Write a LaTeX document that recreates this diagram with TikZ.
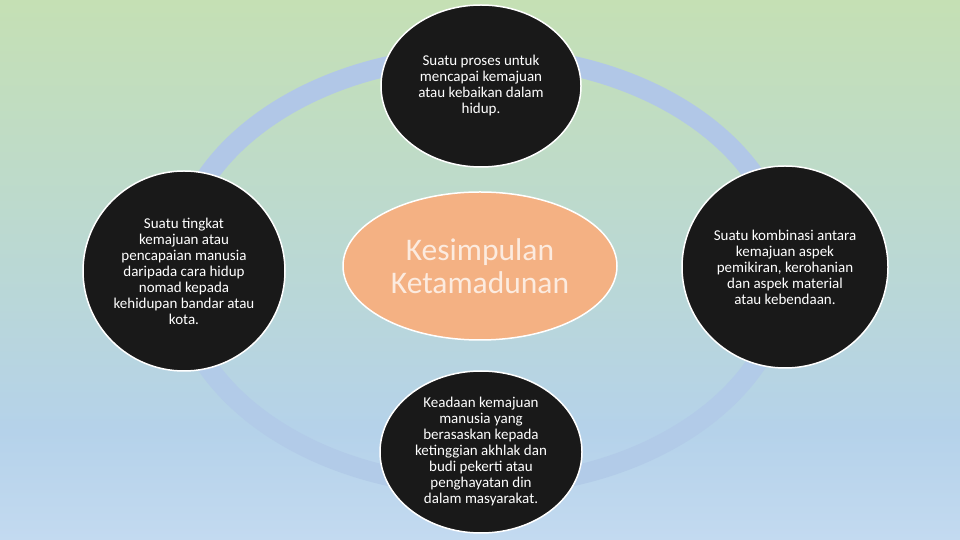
\documentclass[tikz,border=0pt]{standalone}
\usepackage{fontspec}
\setmainfont{Carlito}
\usepackage{tikz}
\usetikzlibrary{shapes.geometric}
\definecolor{skygreen}{HTML}{C5E0B4}
\definecolor{skyteal}{HTML}{BAD8D5}
\definecolor{skymid}{HTML}{B5D2EA}
\definecolor{skyblue}{HTML}{C3DAF0}
\definecolor{ringblue}{HTML}{B1C7E7}
\definecolor{hubfill}{HTML}{F4B183}
\definecolor{hubtext}{HTML}{FCEBDF}
\pgfdeclareverticalshading{skyfade}{100bp}{color(0bp)=(skyblue); color(25bp)=(skyblue);
  color(35bp)=(skymid); color(50bp)=(skyteal); color(75bp)=(skygreen); color(100bp)=(skygreen)}
\tikzset{
  idea/.style={ellipse, draw=white, line width=1.5pt, fill=black!90, text=white,
    align=center, inner sep=0pt, font=\fontsize{15}{16}\selectfont},
  hub/.style={ellipse, draw=white, line width=1.5pt, fill=hubfill, text=hubtext,
    align=center, inner sep=0pt, minimum width=274pt, minimum height=148pt,
    font=\fontsize{31.5}{33}\selectfont}
}

\begin{document}
\begin{tikzpicture}[x=1pt, y=1pt]

  \newcommand\CX{481};
  \newcommand\CY{270};

  \useasboundingbox (0,0) rectangle (960,540);
  \shade[shading=skyfade] (0,0) rectangle (960,540);

  %% ring behind the four circles (lower half fainter)
  \draw[ringblue, line width=20pt] (\CX+305, \CY-1) arc [start angle=0, end angle=180, x radius=305, y radius=215];
  \draw[ringblue!65!skymid, line width=20pt] (\CX-305, \CY-1) arc [start angle=180, end angle=360, x radius=305, y radius=215];

  \node[hub] (hub) at (\CX-1, \CY+4) {Kesimpulan\\Ketamadunan};

  \node[idea, minimum width=200pt, minimum height=162pt] (top) at (\CX, \CY+184)
    {Suatu proses untuk\\mencapai kemajuan\\atau kebaikan dalam\\hidup.};
  \node[idea, minimum width=202pt, minimum height=200pt] (left) at (\CX-297, \CY-1)
    {Suatu tingkat\\kemajuan atau\\pencapaian manusia\\daripada cara hidup\\nomad kepada\\kehidupan bandar atau\\kota.};
  \node[idea, minimum width=206pt, minimum height=202pt] (right) at (\CX+304, \CY+3)
    {Suatu kombinasi antara\\kemajuan aspek\\pemikiran, kerohanian\\dan aspek material\\atau kebendaan.};
  \node[idea, minimum width=202pt, minimum height=162pt] (bottom) at (\CX, \CY-182)
    {Keadaan kemajuan\\manusia yang\\berasaskan kepada\\ketinggian akhlak dan\\budi pekerti atau\\penghayatan din\\dalam masyarakat.};

\end{tikzpicture}
\end{document}
